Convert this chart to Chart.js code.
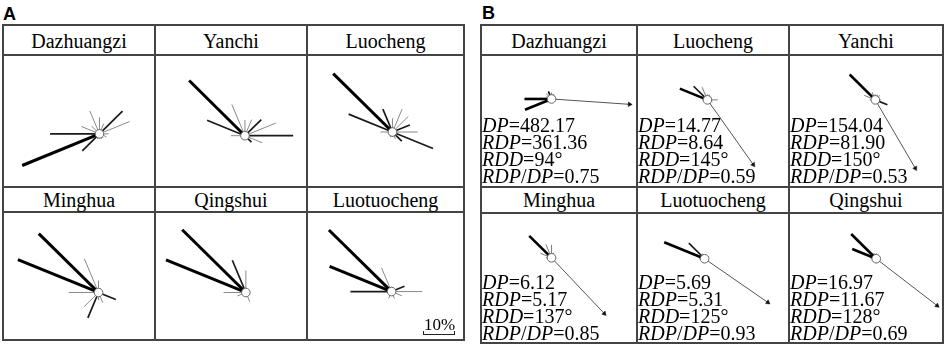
<!DOCTYPE html>
<html><head><meta charset="utf-8">
<script src="https://cdn.jsdelivr.net/npm/chart.js@4/dist/chart.umd.min.js"></script>
<style>
html,body{margin:0;padding:0;background:#fff;width:948px;height:347px;overflow:hidden;position:relative}
.lbl{position:absolute;font:bold 18px "Liberation Sans",Arial,sans-serif;color:#000;line-height:18px}
.ln{position:absolute;background:#444}
.title{position:absolute;font:20px "Liberation Serif","Times New Roman",serif;text-align:center;color:#000;white-space:nowrap;line-height:20px}
canvas{position:absolute}
.stats{position:absolute;font:20px "Liberation Serif","Times New Roman",serif;line-height:16.7px;white-space:nowrap;color:#000;z-index:5}
.scale{position:absolute;font:17px "Liberation Serif","Times New Roman",serif;line-height:17px;color:#000}
.bar{position:absolute;border:1.5px solid #222;border-top:none}
</style></head><body>
<script>
// ---------- DATA ----------
const directions = ['N','NNE','NE','ENE','E','ESE','SE','SSE','S','SSW','SW','WSW','W','WNW','NW','NNW'];

// Panel A: sand/wind roses (frequency, %)
const stationsA = ['Dazhuangzi','Yanchi','Luocheng','Minghua','Qingshui','Luotuocheng'];
const roseA_Dazhuangzi  = [6, 4, 11.7, 11.7, 3.3, 2.7, 2, 2, 1.7, 2, 8.7, 30, 17.7, 7, 4, 9];
const roseA_Yanchi      = [5.7, 6.3, 8.3, 12, 17.3, 6.7, 3.3, 1.7, 1, 1, 1, 1, 5, 14.7, 28.3, 12.3];
const roseA_Luocheng    = [5, 9, 8, 6.7, 9, 15.7, 4.7, 2.7, 1.7, 2, 1.7, 1.7, 4.3, 17, 30, 9];
const roseA_Minghua     = [4.3, 1.7, 1.3, 1.3, 1.3, 6.7, 1.3, 4, 2.7, 10, 7.3, 1.7, 10.7, 31.3, 30.3, 13.3];
const roseA_Qingshui    = [8, 1, 1, 1, 1, 1, 1, 3.7, 1, 1, 1, 3.3, 8, 31, 32.3, 12.7];
const roseA_Luotuocheng = [1.7, 1.7, 1.3, 5, 11, 4, 1.3, 2.7, 1.3, 2.7, 1.3, 1.3, 14.7, 24, 31.7, 9.3];
// ray class (1 = minor, 2 = moderate, 3 = major)
const classA_Dazhuangzi  = [1,1,2,1,1,1,1,1,1,1,2,3,2,1,1,1];
const classA_Yanchi      = [1,1,2,1,2,1,2,1,1,1,1,1,1,2,3,1];
const classA_Luocheng    = [1,1,1,2,1,2,2,1,1,1,1,1,1,2,3,2];
const classA_Minghua     = [1,1,1,1,1,2,1,1,1,2,1,1,1,3,3,1];
const classA_Qingshui    = [1,1,1,1,1,1,1,1,1,1,1,1,1,3,3,2];
const classA_Luotuocheng = [1,1,1,2,1,1,1,1,1,1,1,1,2,3,3,1];

// Panel B: drift potential roses
const stationsB = ['Dazhuangzi','Luocheng','Yanchi','Minghua','Luotuocheng','Qingshui'];
const DP    = ['482.17','14.77','154.04','6.12','5.69','16.97'];
const RDP   = ['361.36','8.64','81.90','5.17','5.31','11.67'];
const RDD   = [94, 145, 150, 137, 125, 128];
const RDPDP = ['0.75','0.59','0.53','0.85','0.93','0.69'];
const arrowB = [28, 28.7, 28.7, 27.7, 27.7, 27.7];
const roseB_Dazhuangzi  = [2.3, 2, 1.7, 1.3, 1, 1, 1, 1, 1, 1.3, 2, 10.3, 9.7, 2, 2.7, 3];
const roseB_Luocheng    = [2, 2, 1.7, 1.7, 3.7, 2, 1.7, 1.3, 1, 1, 1, 1.3, 1.7, 10.7, 7, 5];
const roseB_Yanchi      = [2, 2, 2.3, 1.7, 2, 4.7, 1.7, 1.3, 1, 1, 1, 1.3, 2, 4.3, 13, 3];
const roseB_Minghua     = [4.7, 2, 1.3, 1, 1, 1.3, 1, 1, 1, 1.3, 1.3, 1.3, 2, 4.3, 11.3, 5.3];
const roseB_Luotuocheng = [1, 1, 1, 1.3, 1.3, 1, 1, 1, 1, 1, 1, 1, 2, 15.7, 8, 2];
const roseB_Qingshui    = [2, 1.3, 1.3, 1.3, 1.3, 1, 1, 1, 1.3, 1, 1.3, 1.7, 2, 9.3, 12.7, 2.3];
const classB_Dazhuangzi  = [1,1,1,1,1,1,1,1,1,1,1,3,3,1,1,2];
const classB_Luocheng    = [1,1,1,1,1,1,1,1,1,1,1,1,1,3,2,1];
const classB_Yanchi      = [1,1,1,1,1,2,1,1,1,1,1,1,1,1,3,1];
const classB_Minghua     = [1,1,1,1,1,1,1,1,1,1,1,1,1,1,3,1];
const classB_Luotuocheng = [1,1,1,1,1,1,1,1,1,1,1,1,1,3,2,1];
const classB_Qingshui    = [1,1,1,1,1,1,1,1,1,1,1,1,1,3,3,1];

// ---------- LAYOUT ----------
const U = 3; // px per unit (10% = 30 px)
const gridA = {xs:[3,155,307,464], ys:[25,55,187,212,340]};
const gridB = {xs:[481,637,789,943], ys:[25,55,187,213,343]};
const centersA = [[101,135],[246,137],[393,133],[100,294],[247,294],[392,293]];
const centersB = [[551,97],[707,98],[876,98],[551,256],[704,257],[877,257]];

const roseA = {Dazhuangzi:roseA_Dazhuangzi,Yanchi:roseA_Yanchi,Luocheng:roseA_Luocheng,Minghua:roseA_Minghua,Qingshui:roseA_Qingshui,Luotuocheng:roseA_Luotuocheng};
const classA = {Dazhuangzi:classA_Dazhuangzi,Yanchi:classA_Yanchi,Luocheng:classA_Luocheng,Minghua:classA_Minghua,Qingshui:classA_Qingshui,Luotuocheng:classA_Luotuocheng};
const roseB = {Dazhuangzi:roseB_Dazhuangzi,Yanchi:roseB_Yanchi,Luocheng:roseB_Luocheng,Minghua:roseB_Minghua,Qingshui:roseB_Qingshui,Luotuocheng:roseB_Luotuocheng};
const classB = {Dazhuangzi:classB_Dazhuangzi,Yanchi:classB_Yanchi,Luocheng:classB_Luocheng,Minghua:classB_Minghua,Qingshui:classB_Qingshui,Luotuocheng:classB_Luotuocheng};

const stylesA = {1:{c:'#8a8a8a',w:1,o:4},2:{c:'#1a1a1a',w:1.7,o:3},3:{c:'#000',w:3,o:2}};
const stylesB = {1:{c:'#7a7a7a',w:1,o:4},2:{c:'#1a1a1a',w:1.7,o:3},3:{c:'#000',w:2.6,o:2}};

function el(cls, css, html){const d=document.createElement('div');d.className=cls;Object.assign(d.style,css);if(html!==undefined)d.innerHTML=html;document.body.appendChild(d);return d;}

function drawGrid(g){
  const L=g.xs[0],R=g.xs[3],T=g.ys[0],B=g.ys[4];
  g.xs.forEach(x=>el('ln',{left:(x-1)+'px',top:(T-1)+'px',width:'2px',height:(B-T+2)+'px'}));
  g.ys.forEach(y=>el('ln',{left:(L-1)+'px',top:(y-1)+'px',width:(R-L+2)+'px',height:'2px'}));
}
drawGrid(gridA); drawGrid(gridB);
el('lbl',{left:'3px',top:'5px'},'A');
el('lbl',{left:'482px',top:'4px'},'B');

function titles(g, names){
  names.forEach((n,i)=>{
    const c=i%3, r=Math.floor(i/3);
    const x0=g.xs[c], x1=g.xs[c+1];
    const base = r===0 ? 47.5 : 206.5;
    el('title',{left:x0+'px',width:(x1-x0)+'px',top:(base-16.8)+'px'},n);
  });
}
titles(gridA, stationsA); titles(gridB, stationsB);

function rose(g, i, center, values, classes, styles, arrow){
  const c=i%3, r=Math.floor(i/3);
  const x0=g.xs[c]+1, x1=g.xs[c+1]-1;
  const y0=(r===0?g.ys[1]:g.ys[3])+1, y1=(r===0?g.ys[2]:g.ys[4])-1;
  const w=x1-x0, h=y1-y0;
  const cv=document.createElement('canvas');
  cv.width=w; cv.height=h; cv.style.left=x0+'px'; cv.style.top=y0+'px';
  cv.style.width=w+'px'; cv.style.height=h+'px';
  document.body.appendChild(cv);
  const cx=center[0]-x0, cy=center[1]-y0;
  const ds = values.map((v,k)=>{
    const b=k*22.5*Math.PI/180, s=styles[classes[k]];
    return {data:[{x:0,y:0},{x:v*Math.sin(b),y:v*Math.cos(b)}],showLine:true,borderColor:s.c,borderWidth:s.w,
            pointRadius:0,order:s.o,borderCapStyle:'butt',clip:false};
  });
  if(arrow){
    const b=arrow.dir*Math.PI/180;
    ds.push({data:[{x:0,y:0},{x:arrow.len*Math.sin(b),y:arrow.len*Math.cos(b)}],showLine:true,
      borderColor:'#555',borderWidth:1,pointRadius:[0,2.6],pointStyle:'triangle',pointRotation:arrow.dir,
      pointBackgroundColor:'#111',pointBorderColor:'#111',pointBorderWidth:0.5,order:1,clip:false});
  }
  ds.push({data:[{x:0,y:0}],showLine:false,pointRadius:4.3,pointBackgroundColor:'#fff',pointBorderColor:'#666',
           pointBorderWidth:1,order:0,clip:false});
  new Chart(cv,{type:'scatter',data:{datasets:ds},options:{
    animation:false,responsive:false,maintainAspectRatio:false,events:[],
    layout:{padding:0},
    plugins:{legend:{display:false},tooltip:{enabled:false}},
    scales:{x:{type:'linear',display:false,min:-cx/U,max:(w-cx)/U},
            y:{type:'linear',display:false,min:-(h-cy)/U,max:cy/U}}
  }});
}

stationsA.forEach((n,i)=>rose(gridA,i,centersA[i],roseA[n],classA[n],stylesA,null));
stationsB.forEach((n,i)=>{
  rose(gridB,i,centersB[i],roseB[n],classB[n],stylesB,{dir:RDD[i],len:arrowB[i]});
  const c=i%3, r=Math.floor(i/3);
  const base = r===0 ? 132.5 : 289.5;
  el('stats',{left:(gridB.xs[c]+1)+'px',top:(base-15.1)+'px'},
    '<i>DP</i>='+DP[i]+'<br><i>RDP</i>='+RDP[i]+'<br><i>RDD</i>='+RDD[i]+'°<br><i>RDP</i>/<i>DP</i>='+RDPDP[i]);
});

// scale bar (10%)
el('scale',{left:'424px',top:(329-13.4)+'px'},'10%');
el('bar',{left:'423px',top:'331px',width:(10*U)+'px',height:'3px'});
</script>
</body></html>
